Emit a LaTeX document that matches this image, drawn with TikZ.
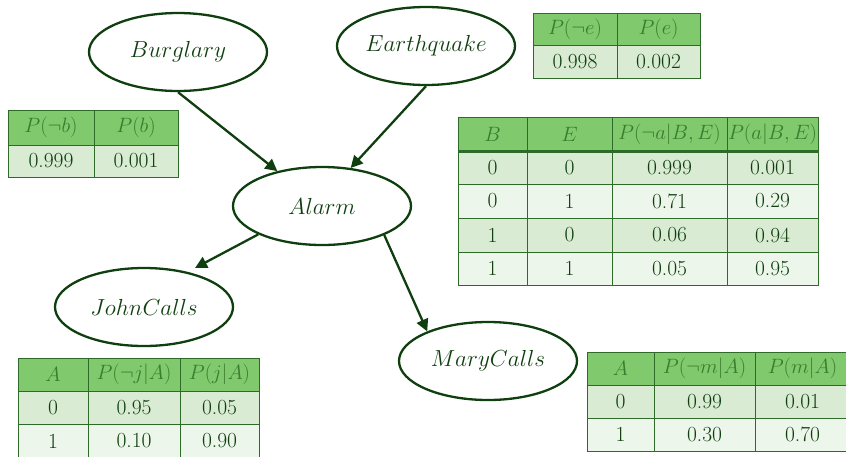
\documentclass[tikz,border=0pt]{standalone}
\usetikzlibrary{arrows.meta,calc,shapes.geometric}

\definecolor{inkgreen}{HTML}{0F3F0F}
\definecolor{hdrfill}{HTML}{80C96C}
\definecolor{hdrink}{HTML}{3B7C2E}
\definecolor{rowA}{HTML}{D9EBD3}
\definecolor{rowB}{HTML}{EDF6EA}
\definecolor{gridgreen}{HTML}{2E6B28}

\tikzset{
  var/.style={ellipse, draw=inkgreen, line width=2.3pt, text=inkgreen,
    minimum width=178pt, minimum height=78pt, inner sep=0pt},
  varlabel/.style={font=\fontsize{22.5}{26}\selectfont},
  link/.style={draw=inkgreen, line width=2.3pt,
    -{Triangle[length=12pt,width=12pt]}},
  hdrbox/.style={fill=hdrfill, draw=gridgreen, line width=0.9pt},
  bodybox/.style={draw=gridgreen, line width=0.9pt},
  hdrtxt/.style={text=hdrink, inner sep=0pt, font=\fontsize{19.5}{23}\selectfont},
  bodytxt/.style={text=inkgreen, inner sep=0pt, font=\fontsize{21.5}{24}\selectfont},
}

% variable name set large in math italic
\newcommand\varname[1]{\scalebox{1.12}{$#1$}}

% header cell: name, x1, y1, x2, y2, content
\newcommand\hcell[6]{%
  \filldraw[hdrbox] (#2,#3) rectangle (#4,#5);
  \node[hdrtxt] (#1) at ({(#2+#4)/2},{(#3+#5)/2}) {#6};}
% body cell: name, x1, y1, x2, y2, fill, content
\newcommand\bcell[7]{%
  \filldraw[bodybox, fill=#6] (#2,#3) rectangle (#4,#5);
  \node[bodytxt] (#1) at ({(#2+#4)/2},{(#3+#5)/2}) {#7};}

\begin{document}
\begin{tikzpicture}[x=1pt, y=-1pt]
\useasboundingbox (0,0) rectangle (846,456);
\clip (0,0) rectangle (846,456);

% ---------- network ----------
\node[var, varlabel] (b) at (178,52)  {\varname{Burglary}};
\node[var, varlabel] (e) at (426,46)  {\varname{Earthquake}};
\node[var, varlabel] (a) at (322,206) {\varname{Alarm}};
\node[var, varlabel] (j) at (144,307) {\varname{JohnCalls}};
\node[var, varlabel] (m) at (488,361) {\varname{MaryCalls}};

\draw[link] (b.south) -- (a.142);
\draw[link] (e.south) -- (a.53);
\draw[link] (a.204) -- ($(j.center)+(51,-39)$);
\draw[link] (a.335) -- (m.154);

% ---------- P(B) ----------
\hcell{pb1}{8}{110}{94}{145}{$P(\neg b)$}
\hcell{pb2}{94}{110}{178}{145}{$P(b)$}
\bcell{pb3}{8}{145}{94}{177}{rowA}{0.999}
\bcell{pb4}{94}{145}{178}{177}{rowA}{0.001}

% ---------- P(E) ----------
\hcell{pe1}{533}{13}{617}{45}{$P(\neg e)$}
\hcell{pe2}{617}{13}{700}{45}{$P(e)$}
\bcell{pe3}{533}{45}{617}{78}{rowA}{0.998}
\bcell{pe4}{617}{45}{700}{78}{rowA}{0.002}

% ---------- P(A | B, E) ----------
\hcell{pa1}{458}{117}{527}{151}{$B$}
\hcell{pa2}{527}{117}{612}{151}{$E$}
\hcell{pa3}{612}{117}{727}{151}{$P(\neg a|B,E)$}
\hcell{pa4}{727}{117}{818}{151}{$P(a|B,E)$}
\bcell{pa5}{458}{151}{527}{184}{rowA}{0}
\bcell{pa6}{527}{151}{612}{184}{rowA}{0}
\bcell{pa7}{612}{151}{727}{184}{rowA}{0.999}
\bcell{pa8}{727}{151}{818}{184}{rowA}{0.001}
\bcell{pa9}{458}{184}{527}{218}{rowB}{0}
\bcell{pa10}{527}{184}{612}{218}{rowB}{1}
\bcell{pa11}{612}{184}{727}{218}{rowB}{0.71}
\bcell{pa12}{727}{184}{818}{218}{rowB}{0.29}
\bcell{pa13}{458}{218}{527}{252}{rowA}{1}
\bcell{pa14}{527}{218}{612}{252}{rowA}{0}
\bcell{pa15}{612}{218}{727}{252}{rowA}{0.06}
\bcell{pa16}{727}{218}{818}{252}{rowA}{0.94}
\bcell{pa17}{458}{252}{527}{285}{rowB}{1}
\bcell{pa18}{527}{252}{612}{285}{rowB}{1}
\bcell{pa19}{612}{252}{727}{285}{rowB}{0.05}
\bcell{pa20}{727}{252}{818}{285}{rowB}{0.95}
\draw[draw=gridgreen, line width=3pt] (458,151) -- (818,151);

% ---------- P(J | A) ----------
\hcell{pj1}{18}{358}{88}{391}{$A$}
\hcell{pj2}{88}{358}{180}{391}{$P(\neg j|A)$}
\hcell{pj3}{180}{358}{259}{391}{$P(j|A)$}
\bcell{pj4}{18}{391}{88}{424}{rowA}{0}
\bcell{pj5}{88}{391}{180}{424}{rowA}{0.95}
\bcell{pj6}{180}{391}{259}{424}{rowA}{0.05}
\bcell{pj7}{18}{424}{88}{458}{rowB}{1}
\bcell{pj8}{88}{424}{180}{458}{rowB}{0.10}
\bcell{pj9}{180}{424}{259}{458}{rowB}{0.90}

% ---------- P(M | A) ----------
\hcell{pm1}{587}{352}{654}{385}{$A$}
\hcell{pm2}{654}{352}{755}{385}{$P(\neg m|A)$}
\hcell{pm3}{755}{352}{850}{385}{$P(m|A)$}
\bcell{pm4}{587}{385}{654}{418}{rowA}{0}
\bcell{pm5}{654}{385}{755}{418}{rowA}{0.99}
\bcell{pm6}{755}{385}{850}{418}{rowA}{0.01}
\bcell{pm7}{587}{418}{654}{451}{rowB}{1}
\bcell{pm8}{654}{418}{755}{451}{rowB}{0.30}
\bcell{pm9}{755}{418}{850}{451}{rowB}{0.70}
\end{tikzpicture}
\end{document}
